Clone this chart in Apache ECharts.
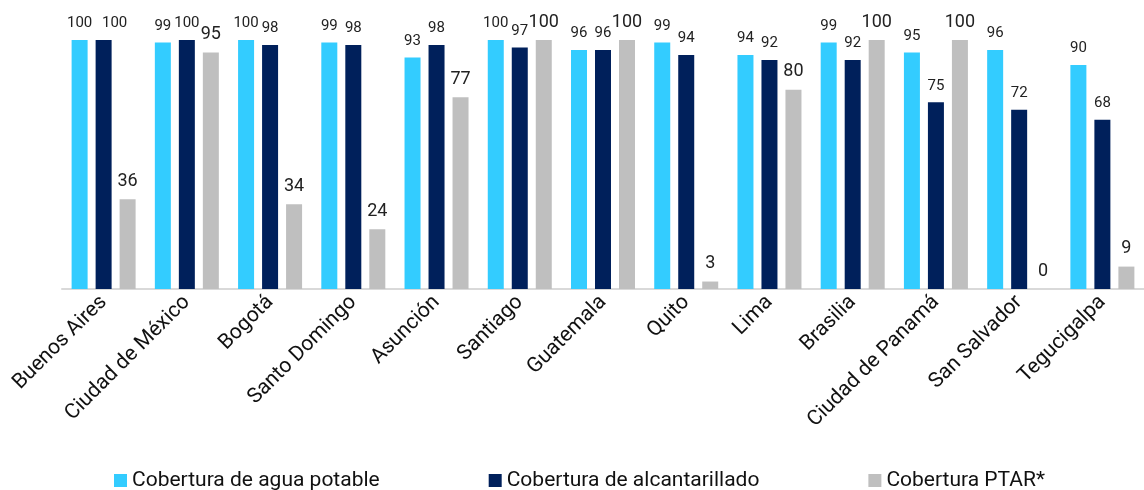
<!DOCTYPE html>
<html>
<head>
<meta charset="utf-8">
<script src="https://cdn.jsdelivr.net/npm/echarts@6/dist/echarts.min.js"></script>
<style>
  html, body { margin: 0; padding: 0; background: #fff; }
  #main { width: 1144px; height: 490px; }
</style>
</head>
<body>
<div id="main"></div>
<script>
var ciudades = ['Buenos Aires', 'Ciudad de México', 'Bogotá', 'Santo Domingo', 'Asunción', 'Santiago',
    'Guatemala', 'Quito', 'Lima', 'Brasilia', 'Ciudad de Panamá', 'San Salvador', 'Tegucigalpa'];
var aguaPotable = [100, 99, 100, 99, 93, 100, 96, 99, 94, 99, 95, 96, 90];
var alcantarillado = [100, 100, 98, 98, 98, 97, 96, 94, 92, 92, 75, 72, 68];
var ptar = [36, 95, 34, 24, 77, 100, 100, 3, 80, 100, 100, 0, 9];

var myChart = echarts.init(document.getElementById('main'));

// etiquetas de valor encima de cada barra
function etiqueta(size) {
    return {
        show: true,
        position: 'top',
        distance: 9,
        color: '#222',
        fontFamily: 'Roboto',
        fontSize: size
    };
}

// la primera etiqueta de alcantarillado va corrida a la derecha para no chocar
var alcantarilladoData = alcantarillado.map(function(v, i) {
    return i === 0 ? { value: v, label: { offset: [11, 0] } } : v;
});

var option = {
    animation: false,
    textStyle: { fontFamily: 'Roboto' },
    grid: { left: 62, right: 0, top: 40, bottom: 201 },
    legend: {
        bottom: -6,
        left: 109,
        itemGap: 109,
        itemWidth: 13,
        itemHeight: 13,
        icon: 'rect',
        textStyle: { fontSize: 21, color: '#111', fontFamily: 'Roboto' },
        data: ['Cobertura de agua potable', 'Cobertura de alcantarillado', 'Cobertura PTAR*']
    },
    xAxis: {
        type: 'category',
        data: ciudades,
        axisLine: { lineStyle: { color: '#d9d9d9', width: 2 } },
        axisTick: { show: false },
        axisLabel: { rotate: 45, fontSize: 21, color: '#111', margin: 10, interval: 0 }
    },
    yAxis: {
        type: 'value',
        min: 0,
        max: 100,
        show: false,
        splitLine: { show: false }
    },
    series: [{
        name: 'Cobertura de agua potable',
        type: 'bar',
        data: aguaPotable,
        barWidth: 16,
        barGap: '50%',
        itemStyle: { color: '#33ccff' },
        label: etiqueta(15)
    }, {
        name: 'Cobertura de alcantarillado',
        type: 'bar',
        data: alcantarilladoData,
        barWidth: 16,
        barGap: '50%',
        itemStyle: { color: '#00205b' },
        label: etiqueta(15)
    }, {
        name: 'Cobertura PTAR*',
        type: 'bar',
        data: ptar,
        barWidth: 16,
        barGap: '50%',
        itemStyle: { color: '#bfbfbf' },
        label: etiqueta(18)
    }]
};

myChart.setOption(option);
</script>
</body>
</html>
